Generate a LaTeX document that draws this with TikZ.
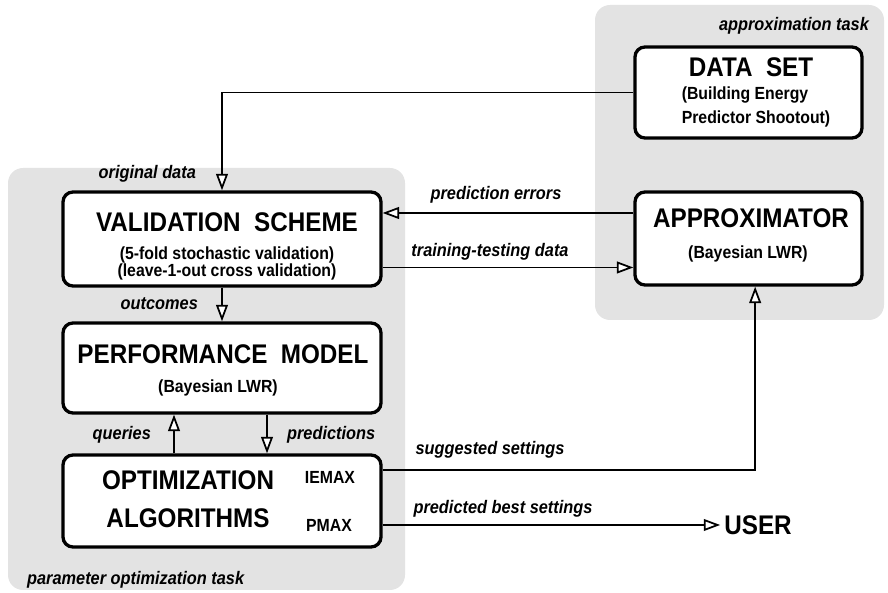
\documentclass[tikz,border=0pt]{standalone}
\usepackage{fontspec}
\setmainfont{Liberation Sans}[FakeStretch=0.9]
\usepackage{tikz}
\usetikzlibrary{arrows.meta,calc}

\tikzset{
  flow/.style={line width=1.5pt,-{Triangle[fill=white,length=14pt,width=10pt]}},
  box/.style={draw,line width=2.8pt,rounded corners=0.3cm,fill=white},
  head/.style={font=\fontsize{23}{32}\selectfont\bfseries,align=center},
  sub/.style={font=\fontsize{15}{15}\selectfont\bfseries,align=center},
  lbl/.style={font=\fontsize{15.5}{18}\selectfont\bfseries\itshape},
  taskarea/.style={fill=gray!22,rounded corners=0.45cm}
}

\begin{document}
\begin{tikzpicture}
\useasboundingbox (0,0) rectangle (26.64,17.79);
\fill[taskarea] (17.85,8.19) rectangle (26.52,17.64);
\fill[taskarea] (0.24,0.09) rectangle (12.15,12.75);
\node[lbl,anchor=east] (apptask) at (26.19,17.01) {approximation task};
\node[lbl,anchor=west] (opttask) at (0.69,0.39) {parameter optimization task};

\node[box,minimum width=6.81cm,minimum height=2.73cm] (ds) at (22.455,15.015) {};
\node[head] (dshead) at (22.53,15.78) {DATA\ \ SET};
\node[sub,align=left,font=\fontsize{15}{20}\selectfont\bfseries] (dssub) at (22.68,14.58) {(Building Energy\\Predictor Shootout)};

\node[box,minimum width=6.81cm,minimum height=2.79cm] (ap) at (22.455,10.635) {};
\node[head] (aphead) at (22.53,11.25) {APPROXIMATOR};
\node[sub] (apsub) at (22.44,10.17) {(Bayesian LWR)};

\node[box,minimum width=9.54cm,minimum height=2.82cm] (vs) at (6.66,10.62) {};
\node[head] (vshead) at (6.81,11.13) {VALIDATION\ \ SCHEME};
\node[sub] (vssub) at (6.81,9.885) {(5-fold stochastic validation)\\(leave-1-out cross validation)};

\node[box,minimum width=9.54cm,minimum height=2.7cm] (pm) at (6.66,6.75) {};
\node[head] (pmhead) at (6.69,7.17) {PERFORMANCE\ \ MODEL};
\node[sub] (pmsub) at (6.54,6.15) {(Bayesian LWR)};

\node[box,minimum width=9.54cm,minimum height=2.76cm] (oa) at (6.66,2.76) {};
\node[head] (oahead) at (5.64,2.82) {OPTIMIZATION\\ALGORITHMS};
\node[sub] (iemax) at (9.9,3.48) {IEMAX};
\node[sub] (pmax) at (9.87,2.04) {PMAX};

\node[head] (user) at (22.74,2.04) {USER};

\draw[flow] (ds.west) -| (vs.north);
\node[lbl,anchor=east] (origdata) at (6.0,12.57) {original data};
\draw[flow] ([yshift=0.765cm]ap.west) -- ([yshift=0.765cm]ap.west -| vs.east);
\node[lbl] (prederr) at (14.88,11.94) {prediction errors};
\draw[flow] ([yshift=-0.855cm]vs.east) -- ([yshift=-0.855cm]vs.east -| ap.west);
\node[lbl] (traindata) at (14.7,10.23) {training-testing data};
\draw[flow] (vs.south) -- (pm.north);
\node[lbl,anchor=east] (outcomes) at (6.06,8.67) {outcomes};
\draw[flow] ([xshift=-1.44cm]oa.north) -- ([xshift=-1.44cm]pm.south);
\node[lbl,anchor=east] (queries) at (4.65,4.74) {queries};
\draw[flow] ([xshift=1.35cm]pm.south) -- ([xshift=1.35cm]oa.north);
\node[lbl,anchor=west] (predictions) at (8.49,4.74) {predictions};
\draw[flow] ([yshift=0.93cm]oa.east) -| ([xshift=0.2cm]ap.south);
\node[lbl] (suggested) at (14.7,4.29) {suggested settings};
\draw[flow] ([yshift=-0.72cm]oa.east) -- (user.west);
\node[lbl] (bestset) at (15.09,2.52) {predicted best settings};
\end{tikzpicture}
\end{document}
